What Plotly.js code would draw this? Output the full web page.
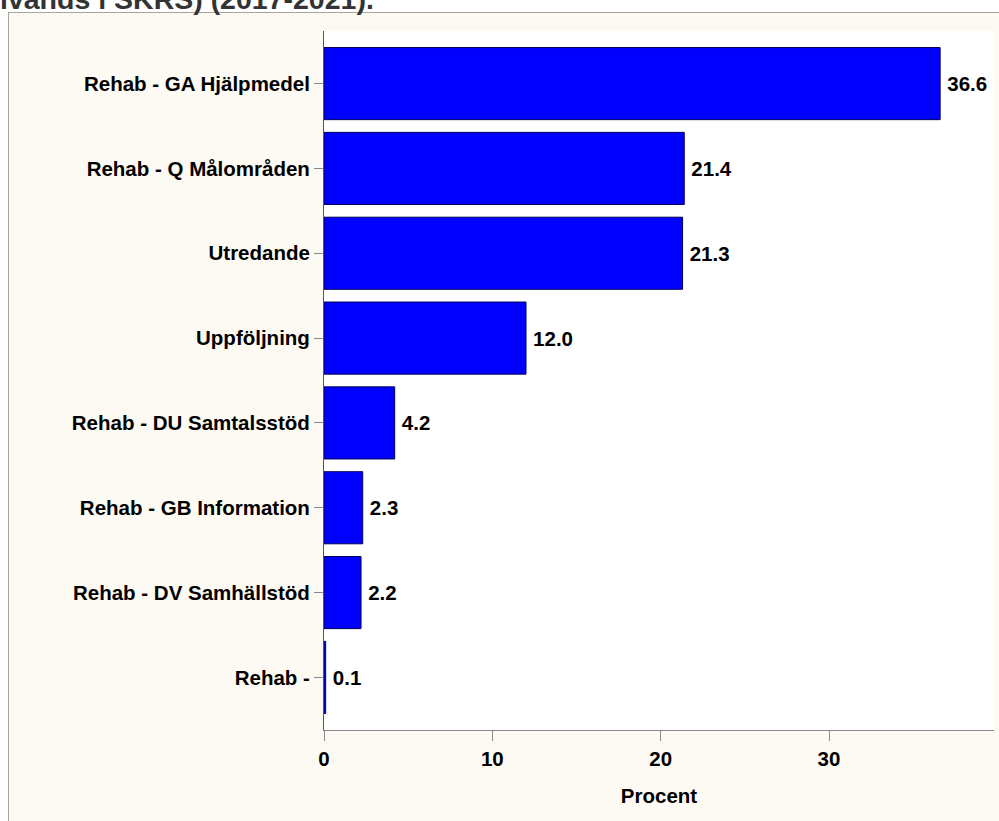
<!DOCTYPE html>
<html>
<head>
<meta charset="utf-8">
<script src="https://cdn.plot.ly/plotly-3.0.1.min.js"></script>
<style>
  html, body { margin: 0; padding: 0; background: #ffffff; }
  #chart { width: 999px; height: 821px; }
</style>
</head>
<body>
<div id="chart"></div>
<script>
// ---- data ----
const categories = [
  "Rehab - GA Hjälpmedel",
  "Rehab - Q Målområden",
  "Utredande",
  "Uppföljning",
  "Rehab - DU Samtalsstöd",
  "Rehab - GB Information",
  "Rehab - DV Samhällstöd",
  "Rehab -"
];
const values = [36.6, 21.4, 21.3, 12.0, 4.2, 2.3, 2.2, 0.1];
const valueLabels = ["36.6", "21.4", "21.3", "12.0", "4.2", "2.3", "2.2", "0.1"];
const xTickVals = [0, 10, 20, 30];
const xTitle = "Procent";
const topTitle = "ivands i SKRS) (2017-2021).";

// ---- layout helpers ----
const W = 999, H = 821;
const M = {l: 324, r: 5, t: 31, b: 91};
const pw = W - M.l - M.r, ph = H - M.t - M.b;
const px2x = p => (p - M.l) / pw;
const py2y = p => (H - M.b - p) / ph;

const fontFam = "Liberation Sans, Arial, Helvetica, sans-serif";
const fs = 20.5;
const cream = "#FDFAF3";
const frame = "#A8A49C";

const trace = {
  type: "bar",
  orientation: "h",
  y: categories,
  x: values,
  text: valueLabels.map(s => "\u2009" + s),
  textposition: "outside",
  cliponaxis: false,
  textfont: {family: fontFam, size: fs, color: "#000000", weight: "bold"},
  marker: {color: "#0000FF", line: {color: "#00005A", width: 1}},
  width: 0.85,
  hoverinfo: "skip"
};

const layout = {
  width: W, height: H,
  margin: M,
  paper_bgcolor: cream,
  plot_bgcolor: "#FFFFFF",
  showlegend: false,
  xaxis: {
    range: [0, 39.8],
    tickvals: xTickVals,
    ticktext: xTickVals.map(String),
    ticks: "outside", ticklen: 10, tickwidth: 1, tickcolor: "#8A8A8A",
    showline: true, linecolor: "#8A8A8A", linewidth: 1,
    showgrid: false, zeroline: false,
    tickfont: {family: fontFam, size: fs, color: "#000000", weight: "bold"},
    title: {text: xTitle, font: {family: fontFam, size: fs, color: "#000000", weight: "bold"}, standoff: 20},
    automargin: false,
    fixedrange: true
  },
  yaxis: {
    type: "category",
    range: [7.62, -0.62],
    ticks: "outside", ticklen: 9, tickwidth: 1, tickcolor: "#8A8A8A",
    showline: true, linecolor: "#5E574C", linewidth: 1,
    showgrid: false, zeroline: false,
    tickfont: {family: fontFam, size: fs, color: "#000000", weight: "bold"},
    automargin: false,
    fixedrange: true
  },
  shapes: [
    // white strips outside the outer frame
    {type: "rect", xref: "paper", yref: "paper", layer: "below",
     x0: px2x(-2), x1: px2x(8), y0: py2y(H + 2), y1: py2y(-2),
     fillcolor: "#FFFFFF", line: {width: 0}},
    {type: "rect", xref: "paper", yref: "paper", layer: "below",
     x0: px2x(-2), x1: px2x(W + 2), y0: py2y(12), y1: py2y(-2),
     fillcolor: "#FFFFFF", line: {width: 0}},
    // frame border lines
    {type: "line", xref: "paper", yref: "paper", layer: "below",
     x0: px2x(8.5), x1: px2x(8.5), y0: py2y(12), y1: py2y(H + 2),
     line: {color: frame, width: 1}},
    {type: "line", xref: "paper", yref: "paper", layer: "below",
     x0: px2x(8), x1: px2x(W + 2), y0: py2y(12.5), y1: py2y(12.5),
     line: {color: frame, width: 1}}
  ],
  annotations: [
    {text: topTitle, xref: "paper", yref: "paper",
     x: px2x(-2), y: py2y(17), xanchor: "left", yanchor: "bottom",
     showarrow: false,
     font: {family: fontFam, size: 28.5, color: "#333333", weight: "bold"}}
  ]
};

Plotly.newPlot("chart", [trace], layout, {displayModeBar: false, staticPlot: true});
</script>
</body>
</html>
